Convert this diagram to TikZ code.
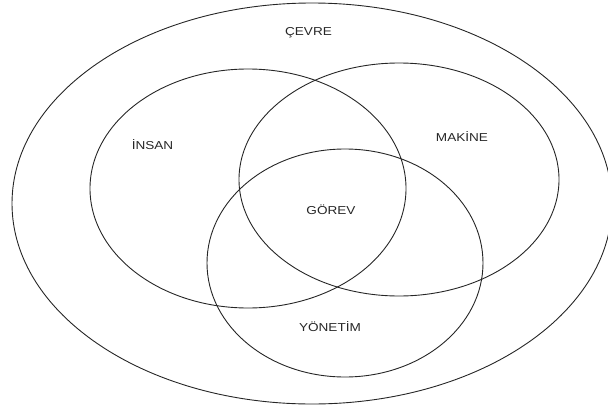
\documentclass[tikz,border=0pt]{standalone}
\usepackage{fontspec}
\setmainfont{Liberation Sans}
\newfontfamily\lblfont[FakeStretch=1.18]{Liberation Sans}
\begin{document}
\begin{tikzpicture}[x=1pt,y=-1pt,
  ring/.style={draw=black!85,line width=0.9pt},
  lbl/.style={font=\lblfont\fontsize{11.5}{13}\selectfont,text=black!85,inner sep=0pt,anchor=center}]
\useasboundingbox (0,0) rectangle (608,407);
\draw[ring] (312,203.5) ellipse [x radius=300, y radius=200.5];
\draw[ring] (248,188.5) ellipse [x radius=158, y radius=119.5];
\draw[ring] (399,179.5) ellipse [x radius=160, y radius=116.5];
\draw[ring] (345,263) ellipse [x radius=138, y radius=114];
\node[lbl] (cevre) at (308.5,33) {ÇEVRE};
\node[lbl] (insan) at (152.5,145) {İNSAN};
\node[lbl] (makine) at (462,136.5) {MAKİNE};
\node[lbl] (gorev) at (331,210) {GÖREV};
\node[lbl] (yonetim) at (330,326.5) {YÖNETİM};
\end{tikzpicture}
\end{document}
